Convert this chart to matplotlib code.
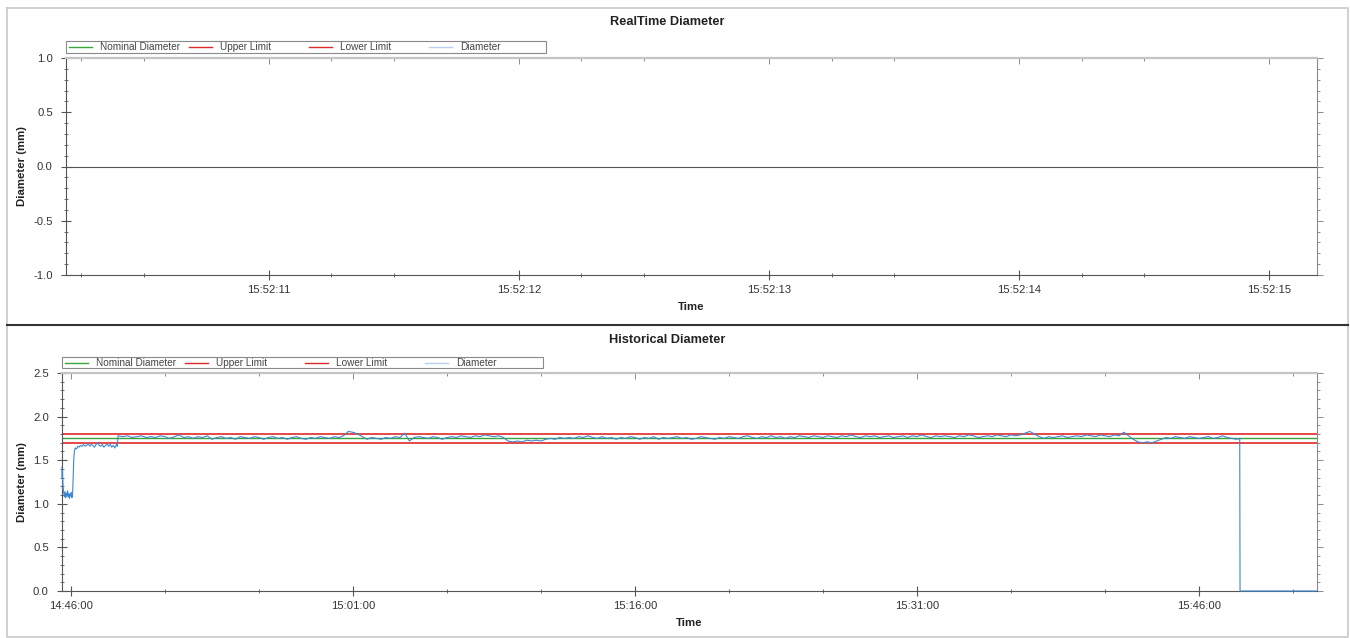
import matplotlib
matplotlib.use("Agg")
import matplotlib.pyplot as plt
import matplotlib.dates as mdates
from matplotlib.lines import Line2D
from matplotlib.patches import Rectangle
from matplotlib.ticker import MultipleLocator, FixedLocator, FormatStrFormatter, NullFormatter
import pandas as pd

plt.rcParams['font.family'] = ['Liberation Sans', 'DejaVu Sans']

DAY = "2024-01-01"

# limits (mm)
NOMINAL = 1.75
UPPER = 1.80
LOWER = 1.70

series_names = ["Nominal Diameter", "Upper Limit", "Lower Limit", "Diameter"]

# start-up transient, seconds after 14:45:30
startup_secs = [1, 2, 3, 4, 5, 7, 9, 11, 13, 15,
                17, 19, 21, 23, 25, 27, 29, 31, 33, 35,
                37, 39, 41, 44, 48, 52, 56, 60, 65, 70,
                75, 80, 85, 90, 95, 100, 105, 110, 115, 120,
                125, 130, 135, 140, 145, 150, 155, 160, 165, 170,
                175, 178]
startup_values = [1.42, 1.30, 1.38, 1.25, 1.18, 1.12, 1.08, 1.14, 1.07, 1.12,
                  1.09, 1.15, 1.08, 1.12, 1.06, 1.11, 1.09, 1.13, 1.07, 1.10,
                  1.30, 1.52, 1.61, 1.64, 1.63, 1.66, 1.65, 1.67, 1.66, 1.68,
                  1.66, 1.67, 1.69, 1.66, 1.68, 1.67, 1.65, 1.68, 1.70, 1.67,
                  1.66, 1.68, 1.65, 1.67, 1.69, 1.66, 1.68, 1.65, 1.67, 1.64,
                  1.68, 1.66]

# steady run, one reading every 15 s from 14:48:30 to 15:48:00
steady_values = [
    1.78, 1.77, 1.78, 1.76, 1.77, 1.78, 1.76, 1.77,
    1.76, 1.78, 1.77, 1.75, 1.77, 1.79, 1.76, 1.77,
    1.75, 1.77, 1.76, 1.78, 1.74, 1.76, 1.77, 1.75,
    1.76, 1.74, 1.77, 1.76, 1.75, 1.77, 1.76, 1.74,
    1.76, 1.77, 1.75, 1.76, 1.74, 1.76, 1.77, 1.75,
    1.74, 1.76, 1.75, 1.77, 1.76, 1.75, 1.77, 1.76,
    1.78, 1.83, 1.82, 1.80, 1.77, 1.74, 1.76, 1.75,
    1.74, 1.76, 1.75, 1.77, 1.76, 1.81, 1.72, 1.76,
    1.77, 1.76, 1.75, 1.77, 1.76, 1.74, 1.76, 1.77,
    1.76, 1.78, 1.77, 1.76, 1.78, 1.77, 1.79, 1.78,
    1.77, 1.78, 1.76, 1.72, 1.71, 1.72, 1.71, 1.73,
    1.72, 1.73, 1.72, 1.74, 1.75, 1.74, 1.76, 1.75,
    1.76, 1.75, 1.77, 1.76, 1.78, 1.76, 1.75, 1.77,
    1.75, 1.76, 1.74, 1.76, 1.75, 1.77, 1.76, 1.74,
    1.76, 1.75, 1.77, 1.74, 1.76, 1.75, 1.76, 1.77,
    1.75, 1.76, 1.74, 1.75, 1.77, 1.76, 1.75, 1.74,
    1.76, 1.75, 1.77, 1.76, 1.75, 1.77, 1.78, 1.76,
    1.75, 1.77, 1.76, 1.78, 1.76, 1.77, 1.75, 1.77,
    1.76, 1.78, 1.77, 1.76, 1.78, 1.77, 1.76, 1.78,
    1.77, 1.76, 1.78, 1.77, 1.79, 1.77, 1.76, 1.78,
    1.77, 1.78, 1.76, 1.77, 1.78, 1.76, 1.77, 1.78,
    1.76, 1.78, 1.77, 1.79, 1.77, 1.76, 1.78, 1.77,
    1.78, 1.77, 1.76, 1.78, 1.77, 1.79, 1.78, 1.76,
    1.77, 1.78, 1.77, 1.79, 1.78, 1.77, 1.79, 1.78,
    1.79, 1.81, 1.83, 1.80, 1.77, 1.75, 1.77, 1.76,
    1.77, 1.78, 1.76, 1.77, 1.78, 1.77, 1.79, 1.78,
    1.77, 1.79, 1.78, 1.77, 1.79, 1.78, 1.82, 1.78,
    1.74, 1.71, 1.70, 1.71, 1.70, 1.72, 1.74, 1.76,
    1.75, 1.77, 1.76, 1.75, 1.77, 1.76, 1.75, 1.76,
    1.77, 1.75, 1.76, 1.78, 1.76, 1.75, 1.74,
]

# line stops: last reading, drop to zero, zero until now
tail_times = ["15:48:10", "15:48:11", "15:52:15"]
tail_values = [1.75, 0.0, 0.0]

hist_xlim = ("14:45:31.3", "15:52:16.6")
live_xlim = ("15:52:10.19", "15:52:15.19")

C_NOM = "#3aa63a"
C_LIM = "#e02a2a"
C_DIA = "#3f86d2"
C_DIA_LEG = "#b9d0ee"
TXT = "#333333"


def ts(t):
    return pd.Timestamp(f"{DAY} {t}")


t0 = ts("14:45:30")
startup_times = t0 + pd.to_timedelta(startup_secs, unit="s")
steady_times = pd.date_range(ts("14:48:30"), periods=len(steady_values), freq="15s")
times = list(startup_times) + list(steady_times) + [ts(t) for t in tail_times]
values = startup_values + steady_values + tail_values
hist = pd.Series(values, index=pd.DatetimeIndex(times))

W, H = 1350, 638
fig = plt.figure(figsize=(W / 100, H / 100), dpi=100)


def box(l, t, r, b):
    return [l / W, 1 - b / H, (r - l) / W, (b - t) / H]


def fx(x):
    return x / W


def fy(y):
    return 1 - y / H


def style_axes(ax, major_x, minor_x):
    ax.spines["top"].set_color("#c4c4c4")
    ax.spines["top"].set_linewidth(1.6)
    ax.spines["right"].set_color("#8a8a8a")
    ax.spines["left"].set_color("#555555")
    ax.spines["bottom"].set_color("#555555")
    ax.xaxis.set_major_locator(major_x)
    ax.xaxis.set_minor_locator(minor_x)
    ax.xaxis.set_major_formatter(mdates.DateFormatter("%H:%M:%S"))
    ax.yaxis.set_major_locator(MultipleLocator(0.5))
    ax.yaxis.set_minor_locator(MultipleLocator(0.1))
    ax.yaxis.set_major_formatter(FormatStrFormatter("%.1f"))
    ax.tick_params(which="both", direction="inout", colors="#555555",
                   labelcolor=TXT, labelsize=8.1)
    ax.tick_params(which="major", length=7, width=0.8)
    ax.tick_params(which="minor", length=3.5, width=0.6)
    ax.tick_params(axis="y", which="major", pad=6)
    ax.set_ylabel("Diameter (mm)", fontsize=8.2, fontweight="bold", color="#222222")
    ax.set_xlabel("Time", fontsize=8.2, fontweight="bold", color="#222222")

    # mirrored ticks: inward along the top, outward on the right
    top = ax.secondary_xaxis("top")
    top.xaxis.set_major_locator(major_x)
    top.xaxis.set_minor_locator(minor_x)
    top.xaxis.set_major_formatter(NullFormatter())
    top.xaxis.set_minor_formatter(NullFormatter())
    top.tick_params(which="both", direction="in", colors="#777777", width=0.6)
    top.tick_params(which="major", length=4)
    top.tick_params(which="minor", length=2.5)
    top.spines["top"].set_visible(False)
    right = ax.secondary_yaxis("right")
    right.yaxis.set_major_locator(MultipleLocator(0.5))
    right.yaxis.set_minor_locator(MultipleLocator(0.1))
    right.yaxis.set_major_formatter(NullFormatter())
    right.tick_params(which="both", direction="out", colors="#777777", width=0.6)
    right.tick_params(which="major", length=4)
    right.tick_params(which="minor", length=2.5)
    right.spines["right"].set_visible(False)


def draw_legend(left, top, right, bottom):
    # chart-control style legend: fixed 120 px slots
    colors = [C_NOM, C_LIM, C_LIM, C_DIA_LEG]
    fig.add_artist(Rectangle((fx(left), fy(bottom)), fx(right) - fx(left),
                             fy(top) - fy(bottom), transform=fig.transFigure,
                             facecolor="white", edgecolor="#8a8a8a", lw=0.8))
    ymid = fy((top + bottom) / 2)
    for i, (name, c) in enumerate(zip(series_names, colors)):
        x0 = left + 120 * i
        fig.add_artist(Line2D([fx(x0 + 3), fx(x0 + 26)], [ymid, ymid],
                              color=c, lw=1.0))
        fig.text(fx(x0 + 34), ymid, name, ha="left", va="center",
                 fontsize=7.2, color="#444444")


# ---- RealTime panel ----
ax1 = fig.add_axes(box(66, 58, 1317, 275))
ax1.set_xlim(ts(live_xlim[0]), ts(live_xlim[1]))
ax1.set_ylim(-1.0, 1.0)
live_minor = [mdates.date2num(ts(f"15:52:{s:02d}") + pd.Timedelta(seconds=f))
              for s in range(10, 16) for f in (0.25, 0.5)]
style_axes(ax1, mdates.SecondLocator(), FixedLocator(live_minor))
ax1.axhline(0.0, color="#555555", lw=0.8)
ax1.yaxis.set_label_coords(-0.031, 0.5)
ax1.xaxis.set_label_coords(0.5, -0.126)
draw_legend(66, 41, 546, 53)

# ---- Historical panel ----
ax2 = fig.add_axes(box(62, 373, 1317, 591))
ax2.set_xlim(ts(hist_xlim[0]), ts(hist_xlim[1]))
ax2.set_ylim(0.0, 2.5)
style_axes(ax2, mdates.MinuteLocator(byminute=[1, 16, 31, 46]),
           mdates.MinuteLocator(byminute=range(1, 60, 5)))
ax2.axhline(NOMINAL, color=C_NOM, lw=1.0)
ax2.axhline(UPPER, color=C_LIM, lw=1.2)
ax2.axhline(LOWER, color=C_LIM, lw=1.2)
ax2.plot(hist.index, hist.values, color=C_DIA, lw=0.8, clip_on=False, zorder=3)
ax2.yaxis.set_label_coords(-0.028, 0.5)
ax2.xaxis.set_label_coords(0.5, -0.122)
draw_legend(62, 357, 543, 368)

# ---- titles and frames ----
fig.text(667 / W, fy(22), "RealTime Diameter", ha="center", va="center",
         fontsize=9.2, fontweight="bold", color="#222222")
fig.text(667 / W, fy(340), "Historical Diameter", ha="center", va="center",
         fontsize=9.2, fontweight="bold", color="#222222")

fxs = [fx(7), fx(1348)]
fig.add_artist(Line2D([fxs[0], fxs[1], fxs[1], fxs[0], fxs[0]],
                      [fy(8), fy(8), fy(637), fy(637), fy(8)],
                      color="#c8c8c8", lw=1.2))
fig.add_artist(Line2D(fxs, [fy(324.5)] * 2, color="#333333", lw=1.5))

fig.savefig("out.png", dpi=100)
